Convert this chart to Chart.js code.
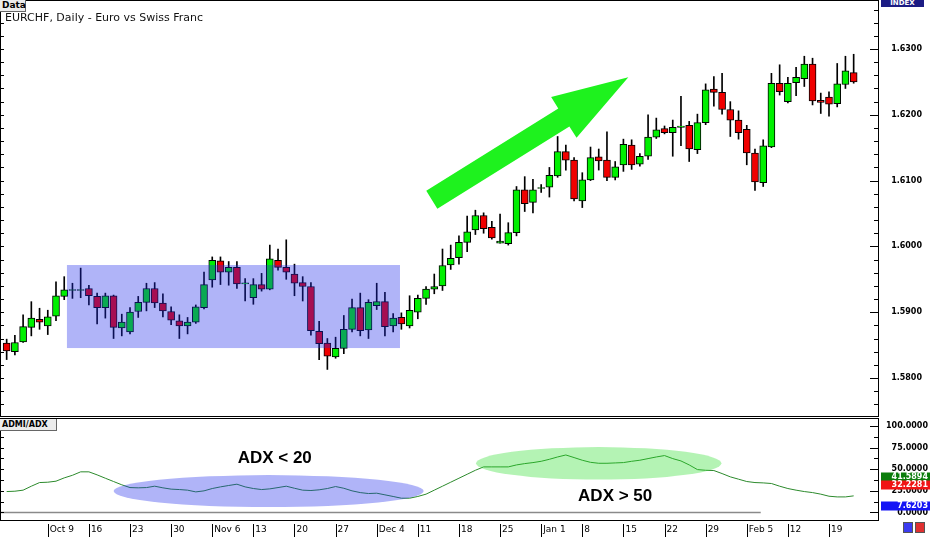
<!DOCTYPE html>
<html>
<head>
<meta charset="utf-8">
<script src="https://cdn.jsdelivr.net/npm/chart.js@4"></script>
<style>
  body { margin: 0; background: #fff; width: 931px; height: 545px; overflow: hidden; position: relative; font-family: "DejaVu Sans", sans-serif; }
  canvas { position: absolute; left: 0; }
  #main { top: 0; }
  #adx { top: 418px; }
  .tag { position: absolute; background: #ececec; border-right: 1px solid #666; border-bottom: 1px solid #666; color: #000; font-weight: bold; padding-left: 2px; box-sizing: border-box; }
  #title { position: absolute; left: 5px; top: 11px; font-size: 11px; line-height: 13px; color: #111; }
  #index { position: absolute; left: 881px; top: 0; width: 43px; height: 7px; background: #1c1c84; color: #fff; font: bold 7px/7px "DejaVu Sans", sans-serif; text-align: center; overflow: hidden; }
  .ico { position: absolute; top: 522px; width: 10px; height: 11px; box-sizing: border-box; border: 1px solid #555; }
</style>
</head>
<body>
<canvas id="main" width="931" height="418"></canvas>
<canvas id="adx" width="931" height="127"></canvas>
<div class="tag" style="left:0;top:0;width:26px;height:12px;font-size:9px;line-height:11px">Data</div>
<div id="title">EURCHF, Daily - Euro vs Swiss Franc</div>
<div id="index">INDEX</div>
<div class="tag" style="left:0;top:419px;width:57px;height:12px;font-size:8px;line-height:11px">ADMI/ADX</div>
<div class="ico" style="left:903px;background:#3b3bf0"></div>
<div class="ico" style="left:915px;background:#e03030"></div>
<script>
// daily EURCHF candles, Oct 2 .. Feb 22
const opens = [
  1.5853, 1.5840, 1.5855, 1.5877, 1.5889, 1.5879, 1.5894, 1.5924, 1.5933, 1.5933,
  1.5936, 1.5924, 1.5907, 1.5925, 1.5876, 1.5870, 1.5901, 1.5915, 1.5936, 1.5914,
  1.5901, 1.5887, 1.5879, 1.5885, 1.5907, 1.5949, 1.5978, 1.5961, 1.5968, 1.5943,
  1.5922, 1.5942, 1.5935, 1.5979, 1.5968, 1.5958, 1.5945, 1.5939, 1.5871, 1.5853,
  1.5832, 1.5845, 1.5874, 1.5907, 1.5873, 1.5910, 1.5916, 1.5879, 1.5892, 1.5879,
  1.5900, 1.5921, 1.5935, 1.5940, 1.5972, 1.5983, 1.6006, 1.6025, 1.6047, 1.6029,
  1.6005, 1.6004, 1.6021, 1.6086, 1.6067, 1.6088, 1.6090, 1.6107, 1.6144, 1.6131,
  1.6069, 1.6101, 1.6136, 1.6131, 1.6105, 1.6124, 1.6154, 1.6125, 1.6137, 1.6166,
  1.6179, 1.6173, 1.6181, 1.6184, 1.6147, 1.6188, 1.6239, 1.6234, 1.6208, 1.6192,
  1.6178, 1.6142, 1.6097, 1.6151, 1.6248, 1.6220, 1.6249, 1.6255, 1.6277, 1.6222,
  1.6227, 1.6217, 1.6246, 1.6264
];
const highs = [
  1.5859, 1.5865, 1.5896, 1.5916, 1.5906, 1.5903, 1.5946, 1.5954, 1.5944, 1.5967,
  1.5941, 1.5929, 1.5929, 1.5926, 1.5897, 1.5907, 1.5924, 1.5944, 1.5945, 1.5928,
  1.5908, 1.5896, 1.5892, 1.5911, 1.5961, 1.5984, 1.5984, 1.5977, 1.5977, 1.5951,
  1.5951, 1.5959, 1.6002, 1.5996, 1.6010, 1.5973, 1.5954, 1.5945, 1.5886, 1.5860,
  1.5862, 1.5895, 1.5920, 1.5929, 1.5919, 1.5944, 1.5930, 1.5898, 1.5899, 1.5925,
  1.5926, 1.5939, 1.5958, 1.5996, 1.6002, 1.6016, 1.6046, 1.6055, 1.6051, 1.6038,
  1.6049, 1.6036, 1.6091, 1.6106, 1.6102, 1.6094, 1.6120, 1.6167, 1.6154, 1.6135,
  1.6112, 1.6151, 1.6148, 1.6174, 1.6129, 1.6163, 1.6162, 1.6141, 1.6200, 1.6195,
  1.6183, 1.6192, 1.6228, 1.6190, 1.6201, 1.6247, 1.6258, 1.6263, 1.6220, 1.6206,
  1.6184, 1.6148, 1.6162, 1.6263, 1.6276, 1.6257, 1.6272, 1.6289, 1.6286, 1.6233,
  1.6235, 1.6278, 1.6289, 1.6292
];
const lows = [
  1.5828, 1.5835, 1.5854, 1.5864, 1.5874, 1.5866, 1.5887, 1.5919, 1.5921, 1.5922,
  1.5911, 1.5882, 1.5891, 1.5860, 1.5864, 1.5867, 1.5892, 1.5902, 1.5907, 1.5893,
  1.5881, 1.5860, 1.5867, 1.5883, 1.5905, 1.5938, 1.5942, 1.5941, 1.5936, 1.5917,
  1.5912, 1.5932, 1.5934, 1.5964, 1.5950, 1.5925, 1.5917, 1.5865, 1.5828, 1.5813,
  1.5830, 1.5837, 1.5870, 1.5864, 1.5860, 1.5904, 1.5864, 1.5870, 1.5874, 1.5876,
  1.5890, 1.5912, 1.5928, 1.5933, 1.5965, 1.5973, 1.5992, 1.6018, 1.6020, 1.6011,
  1.6005, 1.6002, 1.6016, 1.6053, 1.6051, 1.6082, 1.6075, 1.6105, 1.6116, 1.6069,
  1.6059, 1.6100, 1.6116, 1.6100, 1.6101, 1.6114, 1.6117, 1.6122, 1.6132, 1.6164,
  1.6171, 1.6137, 1.6153, 1.6129, 1.6141, 1.6185, 1.6213, 1.6201, 1.6167, 1.6163,
  1.6124, 1.6085, 1.6091, 1.6150, 1.6230, 1.6218, 1.6229, 1.6243, 1.6215, 1.6202,
  1.6198, 1.6212, 1.6240, 1.6248
];
const closes = [
  1.5841, 1.5854, 1.5878, 1.5891, 1.5885, 1.5893, 1.5925, 1.5934, 1.5933, 1.5933,
  1.5925, 1.5907, 1.5925, 1.5877, 1.5885, 1.5900, 1.5915, 1.5936, 1.5914, 1.5902,
  1.5888, 1.5879, 1.5885, 1.5908, 1.5942, 1.5979, 1.5961, 1.5968, 1.5943, 1.5943,
  1.5942, 1.5935, 1.5981, 1.5968, 1.5961, 1.5944, 1.5939, 1.5872, 1.5852, 1.5833,
  1.5845, 1.5874, 1.5907, 1.5872, 1.5915, 1.5916, 1.5878, 1.5891, 1.5882, 1.5903,
  1.5921, 1.5935, 1.5939, 1.5971, 1.5982, 1.6006, 1.6022, 1.6047, 1.6027, 1.6013,
  1.6008, 1.6021, 1.6086, 1.6065, 1.6086, 1.6088, 1.6108, 1.6144, 1.6131, 1.6072,
  1.6101, 1.6135, 1.6130, 1.6105, 1.6121, 1.6155, 1.6124, 1.6137, 1.6166, 1.6177,
  1.6173, 1.6181, 1.6183, 1.6148, 1.6188, 1.6238, 1.6234, 1.6208, 1.6192, 1.6173,
  1.6142, 1.6098, 1.6153, 1.6248, 1.6235, 1.6248, 1.6257, 1.6277, 1.6221, 1.6219,
  1.6216, 1.6247, 1.6267, 1.6250
];
// ADX line, one value per candle
const adx = [
  24.2, 24.6, 25.8, 30.4, 34.6, 35, 36.2, 40, 43, 47,
  47, 43.5, 39.6, 35.8, 32, 28.8, 28.5, 28.8, 30.4, 28.5,
  27, 26.5, 25.8, 23.8, 25, 27.7, 29.6, 31.2, 32.7, 29.6,
  27.7, 26.5, 27.3, 28.8, 30.4, 28, 25.8, 25.4, 26.2, 27.7,
  30, 28, 25, 23, 21.9, 22.3, 20.4, 18.5, 16.5, 16.5,
  18.5, 21.2, 25.8, 30.4, 35, 39.6, 44.2, 48.8, 52.7, 52.7,
  52.7, 52.7, 55, 56.5, 57.7, 59.2, 61.5, 64.2, 66.5, 63.5,
  60.4, 58, 56.9, 56.9, 57.3, 57.7, 59.2, 60.4, 62.3, 64.2,
  65.8, 62.3, 59.6, 55, 49.6, 48.8, 48.5, 45, 41.2, 38.5,
  35.8, 34.6, 34.2, 33.5, 30.4, 27.7, 25.8, 24.2, 23, 21.2,
  18.8, 18, 18, 19.2
];
const weekIdx = [5, 10, 15, 20, 25, 30, 35, 40, 45, 50, 55, 60, 65, 70, 75, 80, 85, 90, 95, 100];
const weekLabels = ['Oct 9', '16', '23', '30', 'Nov 6', '13', '20', '27', 'Dec 4', '11', '18', '25', 'Jan 1', '8', '15', '22', '29', 'Feb 5', '12', '19'];
const priceTicks = { from: 1.576, to: 1.636, minor: 0.002, major: 0.01 };
const adxTicks = { from: 0, to: 100, minor: 12.5, major: 25 };
const valueTags = [41.5894, 32.2281, 7.6203];
const valueTagColors = ['#0b7d0b', '#f01414', '#1414f5'];
const baseLevel = 0;
const baseLevelEnd = 91.7;

// annotations, in data units
const rangeBox = { from: 7.33, to: 47.83, low: 1.58455, high: 1.59717 };
const trendArrow = { from: [51.7, 1.60709], to: [75.6, 1.6257] };
const lowAdxOval = { x: 31.86, y: 24.7, rx: 18.85, ry: 18.5, text: 'ADX < 20', tx: 32.6, ty: 62.9 };
const highAdxOval = { x: 72.0, y: 56.8, rx: 14.92, ry: 18.8, text: 'ADX > 50', tx: 74.0, ty: 19.0 };

const upColor = '#00f000';
const downColor = '#f00000';
const xMin = -0.81, xMax = 105.96;
const font = 'DejaVu Sans';

function onStep(v, step) {
  return Math.abs(v / step - Math.round(v / step)) < 1e-6;
}
function stepTicks(t) {
  const out = [];
  const n = Math.round((t.to - t.from) / t.minor);
  for (let k = 0; k <= n; k++) out.push({ value: t.from + k * t.minor });
  return out;
}
function fitAxis(width) {
  return scale => {
    scale.width = width;
    scale.paddingTop = 0;
    scale.paddingBottom = 0;
  };
}

const mainDecor = {
  id: 'mainDecor',
  afterDatasetsDraw(chart) {
    const { ctx, scales: { x, y } } = chart;
    ctx.save();
    const bx0 = x.getPixelForValue(rangeBox.from), bx1 = x.getPixelForValue(rangeBox.to);
    const by0 = y.getPixelForValue(rangeBox.high), by1 = y.getPixelForValue(rangeBox.low);
    ctx.fillStyle = 'rgba(29,41,235,0.35)';
    ctx.fillRect(bx0, by0, bx1 - bx0, by1 - by0);

    const p0 = { x: x.getPixelForValue(trendArrow.from[0]), y: y.getPixelForValue(trendArrow.from[1]) };
    const p1 = { x: x.getPixelForValue(trendArrow.to[0]), y: y.getPixelForValue(trendArrow.to[1]) };
    const len = Math.hypot(p1.x - p0.x, p1.y - p0.y);
    const ux = (p1.x - p0.x) / len, uy = (p1.y - p0.y) / len;
    const nx = -uy, ny = ux;
    const sw = 10.5, hw = 24, hl = 76;
    const hx = p1.x - ux * hl, hy = p1.y - uy * hl;
    ctx.fillStyle = '#1ef21e';
    ctx.beginPath();
    ctx.moveTo(p0.x + nx * sw, p0.y + ny * sw);
    ctx.lineTo(hx + nx * sw, hy + ny * sw);
    ctx.lineTo(hx + nx * hw, hy + ny * hw);
    ctx.lineTo(p1.x, p1.y);
    ctx.lineTo(hx - nx * hw, hy - ny * hw);
    ctx.lineTo(hx - nx * sw, hy - ny * sw);
    ctx.lineTo(p0.x - nx * sw, p0.y - ny * sw);
    ctx.closePath();
    ctx.fill();
    ctx.restore();
  },
  afterDraw(chart) {
    const { ctx, chartArea: a, scales: { y } } = chart;
    ctx.save();
    ctx.strokeStyle = '#000';
    ctx.lineWidth = 1;
    ctx.strokeRect(a.left + 0.5, a.top - 0.5, a.right - a.left, a.bottom - a.top + 1);
    ctx.beginPath();
    y.ticks.forEach(t => {
      const py = Math.round(y.getPixelForValue(t.value)) + 0.5;
      const major = onStep(t.value, priceTicks.major);
      ctx.moveTo(a.right - (major ? 8 : 4), py);
      ctx.lineTo(a.right, py);
      ctx.moveTo(a.left, py);
      ctx.lineTo(a.left + 4, py);
    });
    ctx.stroke();
    ctx.restore();
  }
};

new Chart(document.getElementById('main'), {
  type: 'bar',
  data: {
    datasets: [
      {
        label: 'body',
        order: 0,
        data: opens.map((o, i) => ({ x: i, y: [o, closes[i]] })),
        backgroundColor: opens.map((o, i) => closes[i] >= o ? upColor : downColor),
        borderColor: '#000',
        borderWidth: 1,
        borderSkipped: false,
        barThickness: 7,
        minBarLength: 1,
        grouped: false
      },
      {
        label: 'wick',
        order: 1,
        data: highs.map((h, i) => ({ x: i, y: [lows[i], h] })),
        backgroundColor: '#000',
        borderWidth: 0,
        barThickness: 1,
        grouped: false
      }
    ]
  },
  options: {
    responsive: false,
    devicePixelRatio: 1,
    animation: false,
    layout: { padding: { top: 1, bottom: 2, left: 0, right: 9 } },
    plugins: { legend: { display: false }, tooltip: { enabled: false } },
    scales: {
      x: { type: 'linear', min: xMin, max: xMax, offset: false, display: false },
      y: {
        position: 'right',
        min: 1.574223,
        max: 1.637295,
        grid: { display: false, drawTicks: false },
        border: { display: false },
        afterBuildTicks: s => { s.ticks = stepTicks(priceTicks); },
        afterFit: fitAxis(44),
        ticks: {
          padding: 13,
          crossAlign: 'far',
          color: '#000',
          font: { family: font, size: 8, weight: 'bold' },
          callback: v => onStep(v, priceTicks.major) ? v.toFixed(4) : ''
        }
      }
    }
  },
  plugins: [mainDecor]
});

function drawOval(ctx, x, y, o, color) {
  const cx = x.getPixelForValue(o.x), cy = y.getPixelForValue(o.y);
  const rx = x.getPixelForValue(o.x + o.rx) - cx;
  const ry = y.getPixelForValue(o.y) - y.getPixelForValue(o.y + o.ry);
  ctx.fillStyle = color;
  ctx.beginPath();
  ctx.ellipse(cx, cy, rx, ry, 0, 0, Math.PI * 2);
  ctx.fill();
  ctx.fillStyle = '#000';
  ctx.font = 'bold 17px "Liberation Sans", Arial, sans-serif';
  ctx.textAlign = 'center';
  ctx.textBaseline = 'middle';
  ctx.fillText(o.text, x.getPixelForValue(o.tx), y.getPixelForValue(o.ty));
}

const adxDecor = {
  id: 'adxDecor',
  afterDatasetsDraw(chart) {
    const { ctx, scales: { x, y } } = chart;
    ctx.save();
    drawOval(ctx, x, y, lowAdxOval, 'rgba(29,41,235,0.35)');
    drawOval(ctx, x, y, highAdxOval, 'rgba(40,220,40,0.35)');
    ctx.restore();
  },
  afterDraw(chart) {
    const { ctx, chartArea: a, scales: { x, y } } = chart;
    ctx.save();
    ctx.strokeStyle = '#000';
    ctx.lineWidth = 1;
    ctx.strokeRect(a.left + 0.5, a.top - 0.5, a.right - a.left, a.bottom - a.top + 1);
    ctx.beginPath();
    y.ticks.forEach(t => {
      const py = Math.round(y.getPixelForValue(t.value)) + 0.5;
      const major = onStep(t.value, adxTicks.major);
      ctx.moveTo(a.right - (major ? 8 : 4), py);
      ctx.lineTo(a.right, py);
      ctx.moveTo(a.left, py);
      ctx.lineTo(a.left + 4, py);
    });
    x.ticks.forEach(t => {
      const px = Math.round(x.getPixelForValue(t.value)) + 0.5;
      ctx.moveTo(px, a.bottom + 4);
      ctx.lineTo(px, a.bottom + 17);
    });
    ctx.stroke();

    ctx.font = 'bold 8px "' + font + '"';
    ctx.textAlign = 'right';
    ctx.textBaseline = 'middle';
    valueTags.forEach((v, i) => {
      const py = y.getPixelForValue(v);
      ctx.fillStyle = valueTagColors[i];
      ctx.fillRect(a.right + 3, Math.round(py) - 4.5, 49, 9);
      ctx.fillStyle = '#fff';
      ctx.fillText(v.toFixed(4), a.right + 50, py);
    });
    ctx.restore();
  }
};

new Chart(document.getElementById('adx'), {
  type: 'line',
  data: {
    datasets: [
      {
        label: 'ADX',
        data: adx.map((v, i) => ({ x: i, y: v })),
        borderColor: '#2c8a2c',
        borderWidth: 1,
        pointRadius: 0,
        tension: 0
      },
      {
        label: 'base',
        data: [{ x: xMin, y: baseLevel }, { x: baseLevelEnd, y: baseLevel }],
        borderColor: '#8a8a8a',
        borderWidth: 1.5,
        pointRadius: 0
      }
    ]
  },
  options: {
    responsive: false,
    devicePixelRatio: 1,
    animation: false,
    layout: { padding: { top: 1, bottom: 0, left: 0, right: 3 } },
    plugins: { legend: { display: false }, tooltip: { enabled: false } },
    scales: {
      x: {
        type: 'linear',
        min: xMin,
        max: xMax,
        offset: false,
        grid: { display: false, drawTicks: false },
        border: { display: false },
        afterBuildTicks: s => { s.ticks = weekIdx.map(v => ({ value: v })); },
        afterFit: s => { s.height = 25; s.paddingLeft = 0; s.paddingRight = 0; },
        ticks: {
          autoSkip: false,
          maxRotation: 0,
          minRotation: 0,
          align: 'start',
          labelOffset: 2,
          padding: 4.6,
          color: '#000',
          font: { family: font, size: 9 },
          callback: v => weekLabels[weekIdx.indexOf(v)]
        }
      },
      y: {
        position: 'right',
        min: -8.7,
        max: 108.1,
        grid: { display: false, drawTicks: false },
        border: { display: false },
        afterBuildTicks: s => { s.ticks = stepTicks(adxTicks); },
        afterFit: fitAxis(50),
        ticks: {
          padding: 8,
          crossAlign: 'far',
          color: '#000',
          font: { family: font, size: 8, weight: 'bold' },
          callback: v => onStep(v, adxTicks.major) ? v.toFixed(4) : ''
        }
      }
    }
  },
  plugins: [adxDecor]
});
</script>
</body>
</html>
